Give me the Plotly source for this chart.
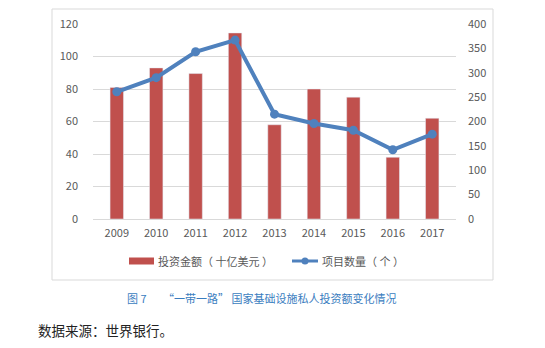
import plotly.graph_objects as go

years = ["2009", "2010", "2011", "2012", "2013", "2014", "2015", "2016", "2017"]
invest = [81, 93, 89.5, 114.5, 58, 80, 75, 38, 62]
projects = [261, 290, 343, 367, 215, 196, 182, 142, 174]

bar_name = "投资金额（ 十亿美元 ）"
line_name = "项目数量（ 个 ）"
caption = "图 7　　“一带一路” 国家基础设施私人投资额变化情况"
source = "数据来源：世界银行。"

FONT = "Noto Sans CJK SC"
GRAY = "#595959"
W, H = 545, 348
L, R, T, B = 93, 456, 24, 219

def px(x):
    return (x - L) / (R - L)

def py(y):
    return (B - y) / (B - T)

fig = go.Figure()
fig.add_trace(go.Bar(x=years, y=invest, name=bar_name, marker_color="#C0504D",
                     width=0.34, yaxis="y", showlegend=False))
fig.add_trace(go.Scatter(x=years, y=projects, name=line_name, mode="lines+markers",
                         line=dict(color="#4F81BD", width=4),
                         marker=dict(size=9, color="#4F81BD"),
                         yaxis="y2", showlegend=False))

shapes = [
    dict(type="rect", xref="paper", yref="paper", x0=px(52), x1=px(493), y0=py(280), y1=py(9),
         line=dict(color="#D9D9D9", width=1), fillcolor="rgba(0,0,0,0)", layer="below"),
    # legend bar icon
    dict(type="rect", xref="paper", yref="paper", x0=px(129), x1=px(154), y0=py(264.5), y1=py(257.5),
         line=dict(width=0), fillcolor="#C0504D"),
    # legend line icon
    dict(type="line", xref="paper", yref="paper", x0=px(292), x1=px(318), y0=py(261), y1=py(261),
         line=dict(color="#4F81BD", width=3)),
    dict(type="circle", xref="paper", yref="paper", x0=px(301.5), x1=px(308.5), y0=py(264.5), y1=py(257.5),
         line=dict(width=0), fillcolor="#4F81BD"),
]

annotations = [
    dict(text=bar_name, xref="paper", yref="paper", x=px(156), y=py(261), xanchor="left", yanchor="middle",
         showarrow=False, font=dict(family=FONT, size=11, color=GRAY)),
    dict(text=line_name, xref="paper", yref="paper", x=px(320), y=py(261), xanchor="left", yanchor="middle",
         showarrow=False, font=dict(family=FONT, size=11, color=GRAY)),
    dict(text=caption, xref="paper", yref="paper", x=px(262), y=py(298), xanchor="center", yanchor="middle",
         showarrow=False, font=dict(family=FONT, size=11, color="#3A7DC0")),
    dict(text=source, xref="paper", yref="paper", x=px(36), y=py(330), xanchor="left", yanchor="middle",
         showarrow=False, font=dict(family=FONT, size=13.5, color="#222222")),
]

fig.update_layout(
    width=W, height=H,
    margin=dict(l=L, r=W - R, t=T, b=H - B, pad=0),
    paper_bgcolor="white", plot_bgcolor="white",
    font=dict(family=FONT, size=11, color=GRAY),
    bargap=0.66,
    xaxis=dict(type="category", showgrid=False, showline=True, linecolor="#D9D9D9",
               ticks="", tickfont=dict(size=11, color=GRAY), ticklabelstandoff=4),
    yaxis=dict(range=[0, 120], dtick=20, showgrid=True, gridcolor="#D9D9D9", gridwidth=1,
               zeroline=False, showline=False, ticks="", tickfont=dict(size=11, color=GRAY),
               ticklabelstandoff=14),
    yaxis2=dict(range=[0, 400], dtick=50, overlaying="y", side="right", showgrid=False,
                zeroline=False, showline=False, ticks="", tickfont=dict(size=11, color=GRAY),
                ticklabelstandoff=11),
    shapes=shapes,
    annotations=annotations,
    showlegend=False,
)

fig.write_html("out.html")
